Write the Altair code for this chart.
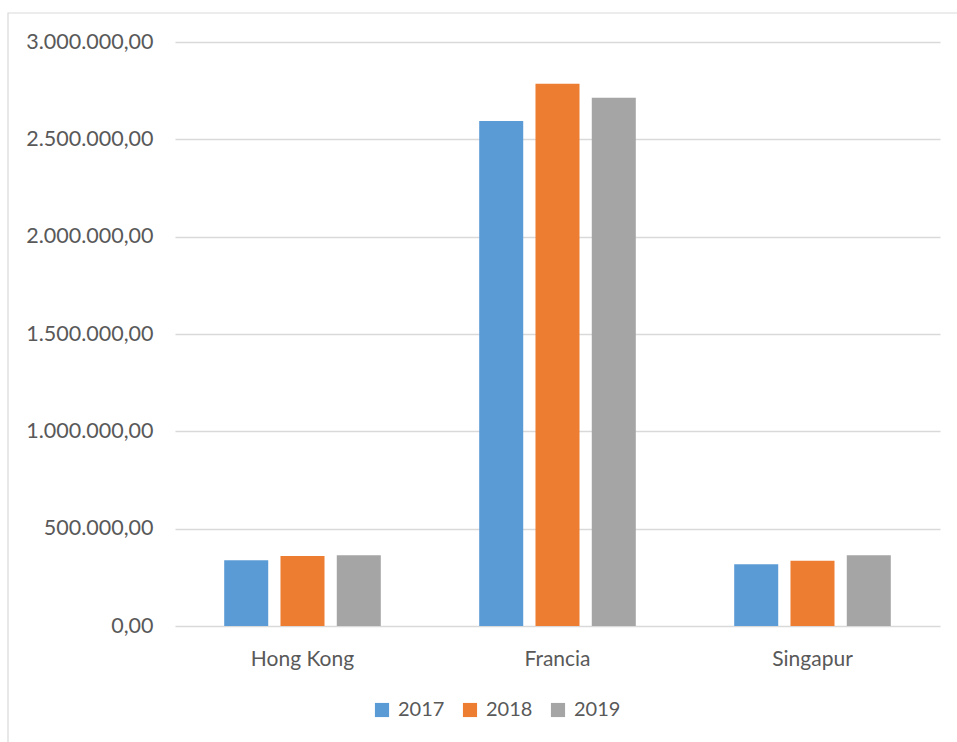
import altair as alt
import pandas as pd

countries = ["Hong Kong", "Francia", "Singapur"]
years = ["2017", "2018", "2019"]
v2017 = [338000, 2594000, 317000]
v2018 = [360000, 2786000, 335000]
v2019 = [363000, 2714000, 363000]
y_ticks = [0, 500000, 1000000, 1500000, 2000000, 2500000, 3000000]
colors = ["#5b9bd5", "#ed7d31", "#a5a5a5"]

rows = []
for i, c in enumerate(countries):
    for yr, vals in zip(years, [v2017, v2018, v2019]):
        rows.append({"country": c, "year": yr, "value": vals[i]})
df = pd.DataFrame(rows)

FONT = "Lato"
LABEL_COLOR = "#595959"

bars = alt.Chart(df).mark_bar().encode(
    x=alt.X(
        "country:N",
        sort=countries,
        scale=alt.Scale(paddingInner=0, paddingOuter=0),
        axis=alt.Axis(
            title=None, labelAngle=0, ticks=False, domain=False, grid=False,
            labelPadding=22, labelFontSize=21, labelColor=LABEL_COLOR, labelFont=FONT,
        ),
    ),
    xOffset=alt.XOffset(
        "year:N", sort=years, scale=alt.Scale(paddingInner=0.218, paddingOuter=0.874)
    ),
    y=alt.Y(
        "value:Q",
        scale=alt.Scale(domain=[0, 3000000], nice=False),
        axis=alt.Axis(
            title=None, values=y_ticks, format=",.2f", domain=False, ticks=False,
            grid=True, gridColor="#d9d9d9", gridWidth=1.3,
            labelPadding=22, labelFontSize=21.5, labelColor=LABEL_COLOR, labelFont=FONT,
        ),
    ),
    color=alt.Color(
        "year:N",
        scale=alt.Scale(domain=years, range=colors),
        legend=alt.Legend(
            title=None, orient="none", direction="horizontal",
            legendX=197, legendY=658,
            symbolType="square", symbolSize=200, symbolStrokeWidth=0,
            labelFontSize=20, labelColor=LABEL_COLOR, labelFont=FONT,
            labelOffset=6, columnPadding=15,
        ),
    ),
)

frame = alt.Chart(pd.DataFrame({"a": [0]})).mark_rect(
    fill="transparent", stroke="#d9d9d9", strokeWidth=1.2
).encode(
    x=alt.value(-167), x2=alt.value(800), y=alt.value(-29), y2=alt.value(720)
)

chart = alt.layer(frame, bars).properties(
    width=765,
    height=584,
    autosize=alt.AutoSizeParams(type="none"),
    padding={"left": 175, "top": 42, "right": 17, "bottom": 116},
).configure(
    locale={"number": {"decimal": ",", "thousands": ".", "grouping": [3], "currency": ["", "€"]}}
).configure_view(stroke=None)

chart.save("out.html", embed_options={"renderer": "svg", "actions": False})
